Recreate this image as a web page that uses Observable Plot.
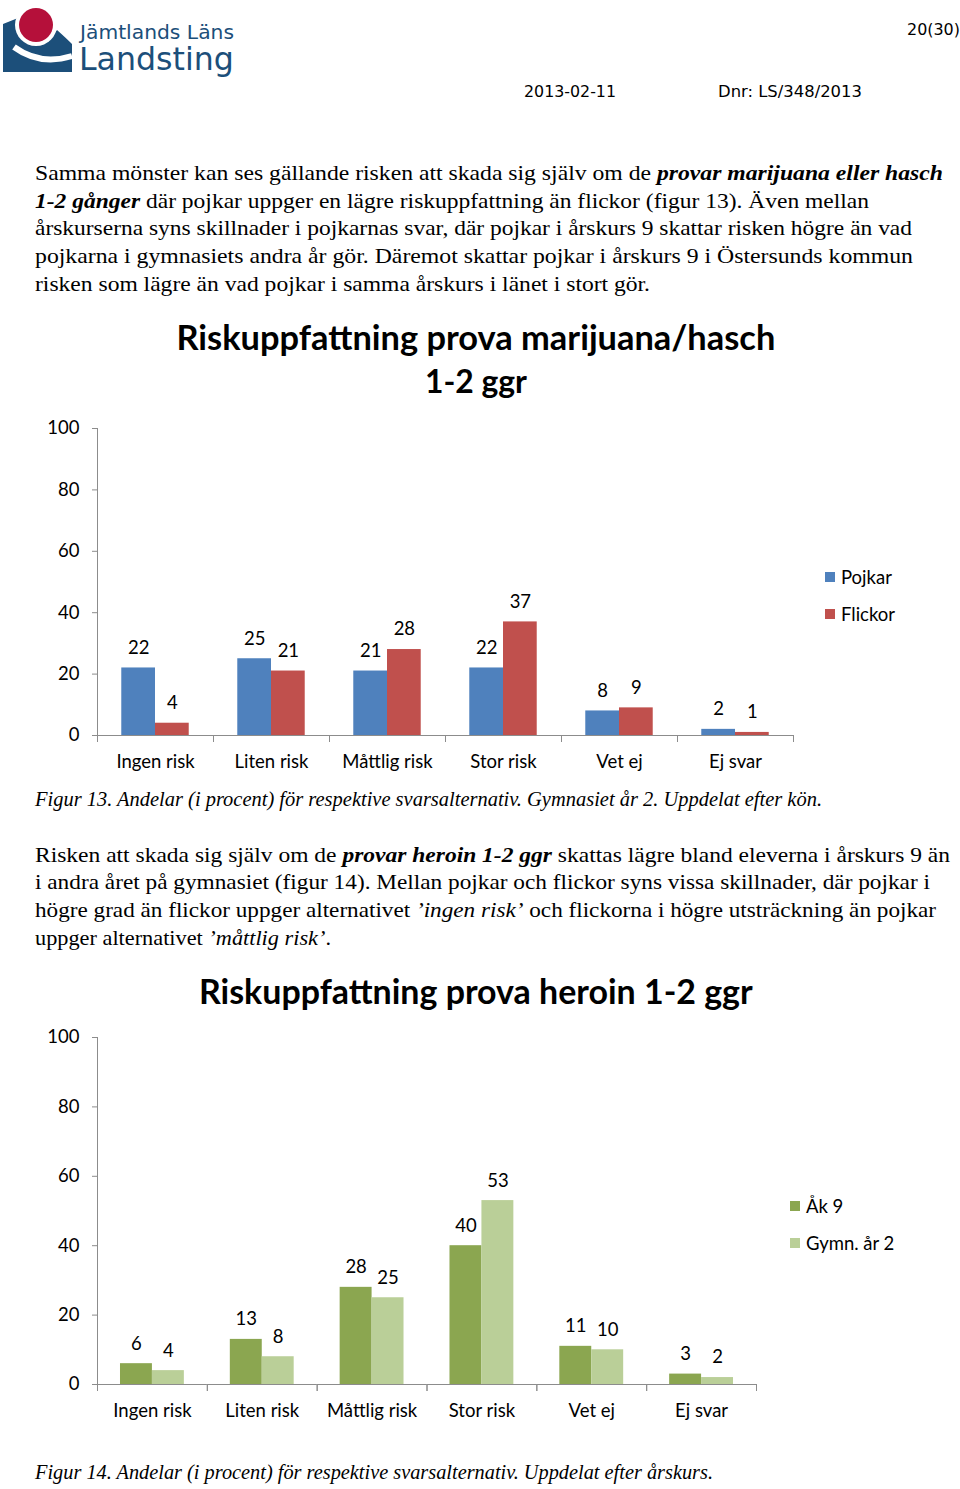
<!DOCTYPE html>
<html>
<head>
<meta charset="utf-8">
<script src="https://cdn.jsdelivr.net/npm/d3@7"></script>
<script src="https://cdn.jsdelivr.net/npm/@observablehq/plot@0.6"></script>
<style>
  html, body { margin: 0; padding: 0; background: #fff; }
  body { width: 960px; height: 1489px; position: relative; overflow: hidden; }
  .abs { position: absolute; }
</style>
</head>
<body>
<svg class="abs" style="left:0;top:0" width="80" height="80" viewBox="0 0 80 80">
  <path d="M3,24 L18,18 L30,40 L48,42 L57,30 Q66,38 72,44 L72,72 L3,72 Z" fill="#1c4f7a"/>
  <circle cx="36" cy="25" r="21" fill="#fff"/>
  <circle cx="36" cy="25" r="17" fill="#b5103a"/>
  <path d="M14,47 Q40,66 72,56" fill="none" stroke="#fff" stroke-width="6"/>
</svg>
<script>
// ---------- data ----------
const categories = ["Ingen risk", "Liten risk", "Måttlig risk", "Stor risk", "Vet ej", "Ej svar"];
const series1 = ["Pojkar", "Flickor"];
const pojkar = [22, 25, 21, 22, 8, 2];
const flickor = [4, 21, 28, 37, 9, 1];
const series2 = ["Åk 9", "Gymn. år 2"];
const ak9 = [6, 13, 28, 40, 11, 3];
const gymn2 = [4, 8, 25, 53, 10, 2];
const yTicks = [0, 20, 40, 60, 80, 100];
const colors1 = ["#4f81bd", "#c0504d"];
const colors2 = ["#8ba650", "#bacf98"];
const axisColor = "#8c8c8c";

// ---------- text helper ----------
function place(html, o) {
  const d = document.createElement("div");
  d.className = "abs";
  d.innerHTML = html;
  const lh = o.lh || 1.3;
  Object.assign(d.style, {
    whiteSpace: "nowrap", fontFamily: o.font, fontSize: o.size + "px",
    lineHeight: (o.size * lh) + "px", fontWeight: o.weight || "normal",
    fontStyle: o.style || "normal", color: o.color || "#000",
    left: "0px", top: "0px", transformOrigin: "0 50%"
  });
  document.body.appendChild(d);
  let w = d.getBoundingClientRect().width;
  let h = o.size * lh;
  if (o.w) {
    if (o.fit === "font") {
      const s = o.size * o.w / w;
      d.style.fontSize = s + "px";
      d.style.lineHeight = (s * lh) + "px";
      h = s * lh;
    } else {
      d.style.transform = `scaleX(${o.w / w})`;
    }
    w = o.w;
  }
  const left = o.anchor === "middle" ? o.x - w / 2 : o.anchor === "end" ? o.x - w : o.x;
  d.style.left = left + "px";
  d.style.top = (o.cy - h / 2) + "px";
  return d;
}

const serif = "'Liberation Serif', 'DejaVu Serif', serif";
const sans = "'DejaVu Sans', Verdana, sans-serif";
const chartFont = "Lato, 'Open Sans', sans-serif";
const chartSize = 18.5;
const logoBlue = "#1c4f7a";

// header
place("Jämtlands Läns", {x: 80, cy: 32, size: 21, font: sans, color: logoBlue, w: 154, fit: "font", lh: 1.0});
place("Landsting", {x: 79, cy: 60, size: 34, font: sans, color: logoBlue, w: 155, fit: "font", lh: 1.0});
place("20(30)", {x: 960, cy: 30, size: 17, font: sans, w: 53, fit: "font", anchor: "end"});
place("2013-02-11", {x: 524, cy: 92, size: 17, font: sans, w: 92, fit: "font"});
place("Dnr: LS/348/2013", {x: 718, cy: 92, size: 17, font: sans, w: 144, fit: "font"});

// paragraph 1
const p1 = [
  ["Samma mönster kan ses gällande risken att skada sig själv om de <b><i>provar marijuana eller hasch</i></b>", 908, 174],
  ["<b><i>1-2 gånger</i></b> där pojkar uppger en lägre riskuppfattning än flickor (figur 13). Även mellan", 834, 202],
  ["årskurserna syns skillnader i pojkarnas svar, där pojkar i årskurs 9 skattar risken högre än vad", 877, 229],
  ["pojkarna i gymnasiets andra år gör. Däremot skattar pojkar i årskurs 9 i Östersunds kommun", 878, 257],
  ["risken som lägre än vad pojkar i samma årskurs i länet i stort gör.", 615, 285]
];
p1.forEach(([t, w, cy]) => place(t, {x: 35, cy, size: 21, font: serif, w}));

// chart titles
place("Riskuppfattning prova marijuana/hasch", {x: 476, cy: 337, size: 32, font: chartFont, weight: "bold", w: 599, fit: "font", anchor: "middle"});
place("1-2 ggr", {x: 476, cy: 382, size: 32, font: chartFont, weight: "bold", w: 102, fit: "font", anchor: "middle"});

place("Figur 13. Andelar (i procent) för respektive svarsalternativ. Gymnasiet år 2. Uppdelat efter kön.", {x: 35, cy: 800, size: 21, font: serif, style: "italic", w: 787});

const p2 = [
  ["Risken att skada sig själv om de <b><i>provar heroin 1-2 ggr</i></b> skattas lägre bland eleverna i årskurs 9 än", 915, 856],
  ["i andra året på gymnasiet (figur 14). Mellan pojkar och flickor syns vissa skillnader, där pojkar i", 895, 883],
  ["högre grad än flickor uppger alternativet <i>’ingen risk’</i> och flickorna i högre utsträckning än pojkar", 901, 911],
  ["uppger alternativet <i>’måttlig risk’</i>.", 296, 939]
];
p2.forEach(([t, w, cy]) => place(t, {x: 35, cy, size: 21, font: serif, w}));

place("Riskuppfattning prova heroin 1-2 ggr", {x: 476, cy: 991, size: 32, font: chartFont, weight: "bold", w: 554, fit: "font", anchor: "middle"});

place("Figur 14. Andelar (i procent) för respektive svarsalternativ. Uppdelat efter årskurs.", {x: 35, cy: 1473, size: 21, font: serif, style: "italic", w: 678});

// ---------- charts ----------
function chart({values, series, colors, height, marginTop, marginBottom, marginRight}) {
  const data = categories.flatMap((c, i) => series.map((s, j) => ({category: c, series: s, value: values[j][i]})));
  const plotH = height - marginTop - marginBottom;
  return Plot.plot({
    width: 960, height, marginLeft: 97, marginRight, marginTop, marginBottom,
    style: {fontFamily: chartFont, fontSize: chartSize + "px", color: "#000", background: "transparent", overflow: "visible"},
    fx: {domain: categories, padding: 0, round: false, label: null, axis: null},
    x: {domain: series, paddingInner: 0, paddingOuter: 0.72, round: false, axis: null},
    y: {domain: [0, 100], axis: null},
    color: {domain: series, range: colors},
    marks: [
      Plot.barY(data, {fx: "category", x: "series", y: "value", fill: "series"}),
      Plot.text(data, {fx: "category", x: "series", y: "value", text: d => String(d.value), dy: -20, fontSize: chartSize, fill: "#000"}),
      Plot.ruleY([0], {stroke: axisColor}),
      Plot.frame({anchor: "left", insetTop: plotH, insetBottom: -6, stroke: axisColor}),
      Plot.frame({anchor: "right", insetTop: plotH, insetBottom: -6, stroke: axisColor}),
      Plot.frame({anchor: "left", facetAnchor: "left", stroke: axisColor}),
      Plot.axisY({ticks: yTicks, tickSize: 5, tickPadding: 13, label: null, stroke: axisColor, fontSize: chartSize}),
      Plot.axisFx({anchor: "bottom", tickSize: 0, tickPadding: 19, label: null, fontSize: chartSize})
    ]
  });
}

function legend(series, colors, x, cys) {
  series.forEach((s, i) => {
    const sq = document.createElement("div");
    sq.className = "abs";
    Object.assign(sq.style, {left: x + "px", top: (cys[i] - 5) + "px", width: "10px", height: "10px", background: colors[i]});
    document.body.appendChild(sq);
    place(s, {x: x + 16, cy: cys[i], size: chartSize, font: chartFont});
  });
}

const c1 = chart({values: [pojkar, flickor], series: series1, colors: colors1, height: 370, marginTop: 18, marginBottom: 45, marginRight: 167});
c1.classList.add("abs");
c1.style.left = "0px"; c1.style.top = "410px";
document.body.appendChild(c1);
legend(series1, colors1, 825, [577, 614]);

const c2 = chart({values: [ak9, gymn2], series: series2, colors: colors2, height: 420, marginTop: 17, marginBottom: 56, marginRight: 204});
c2.classList.add("abs");
c2.style.left = "0px"; c2.style.top = "1020px";
document.body.appendChild(c2);
legend(series2, colors2, 790, [1206, 1243]);
</script>
</body>
</html>
